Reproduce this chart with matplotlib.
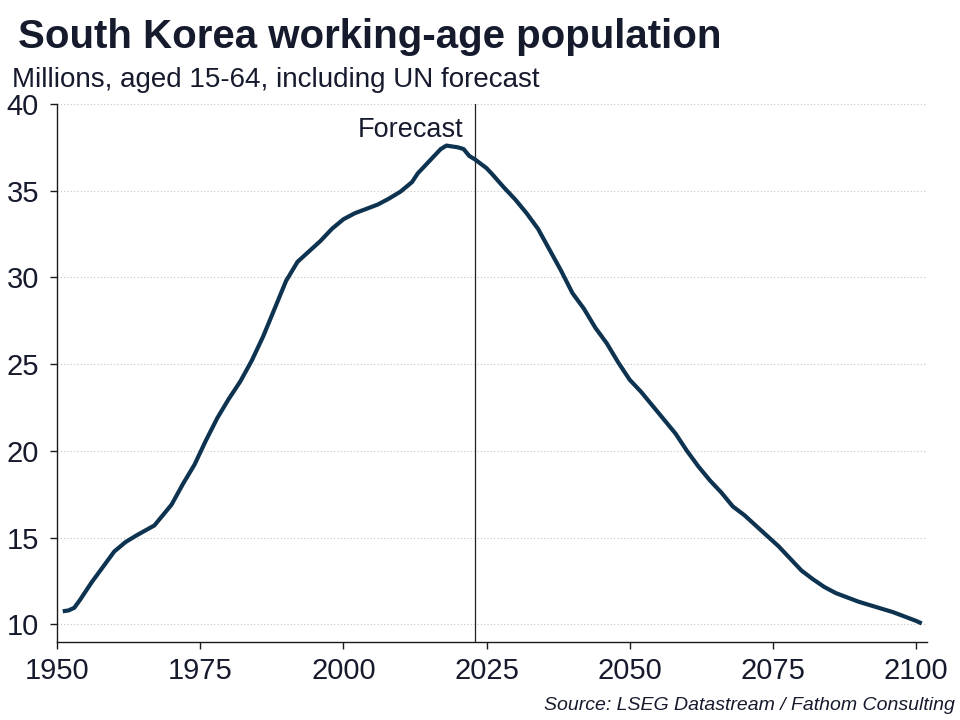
import matplotlib
matplotlib.use("Agg")
import matplotlib.pyplot as plt

# South Korea working-age population (millions, aged 15-64)
years = [
    1951, 1952, 1953, 1954, 1955, 1956, 1958, 1960, 1962, 1964, 1967, 1968,
    1970, 1972, 1974, 1976, 1978, 1980, 1982, 1984, 1986, 1988, 1990, 1992,
    1994, 1996, 1998, 2000, 2002, 2004, 2006, 2008, 2010, 2012, 2013, 2015,
    2017, 2018, 2020, 2021, 2022, 2023, 2025, 2026, 2028, 2030, 2032, 2034,
    2036, 2038, 2040, 2042, 2044, 2046, 2048, 2050, 2052, 2054, 2056, 2058,
    2060, 2062, 2064, 2066, 2068, 2070, 2072, 2074, 2076, 2078, 2080, 2082,
    2084, 2086, 2088, 2090, 2092, 2094, 2096, 2098, 2100, 2101,
]
population = [
    10.75, 10.8, 10.95, 11.4, 11.9, 12.4, 13.3, 14.2, 14.75, 15.15, 15.7, 16.1,
    16.9, 18.1, 19.2, 20.6, 21.9, 23.0, 24.0, 25.2, 26.6, 28.2, 29.8, 30.9,
    31.5, 32.1, 32.8, 33.35, 33.7, 33.95, 34.2, 34.55, 34.95, 35.5, 36.0, 36.7,
    37.4, 37.6, 37.5, 37.4, 37.0, 36.8, 36.3, 35.95, 35.2, 34.5, 33.7, 32.8,
    31.6, 30.4, 29.1, 28.2, 27.1, 26.2, 25.1, 24.1, 23.4, 22.6, 21.8, 21.0,
    20.0, 19.1, 18.3, 17.6, 16.8, 16.3, 15.7, 15.1, 14.5, 13.8, 13.1, 12.6,
    12.15, 11.8, 11.55, 11.3, 11.1, 10.9, 10.7, 10.45, 10.2, 10.05,
]
forecast_start = 2023

x_ticks = [1950, 1975, 2000, 2025, 2050, 2075, 2100]
y_ticks = [10, 15, 20, 25, 30, 35, 40]

TEXT_COLOR = "#161a2d"
LINE_COLOR = "#0d3350"

plt.rcParams["font.family"] = ["Liberation Sans", "DejaVu Sans"]

fig = plt.figure(figsize=(9.6, 7.2), dpi=100)
ax = fig.add_axes([0.0594, 0.1088, 0.9067, 0.7468])

ax.plot(years, population, color=LINE_COLOR, linewidth=3.0,
        solid_joinstyle="round", solid_capstyle="butt", zorder=3)
ax.axvline(forecast_start, color="#222222", linewidth=0.9, zorder=2)
ax.text(forecast_start - 2, 38.1, "Forecast", ha="right", va="baseline",
        fontsize=19.5, color=TEXT_COLOR)

ax.set_xlim(1950, 2102)
ax.set_ylim(9, 40)
ax.set_xticks(x_ticks)
ax.set_yticks(y_ticks)
ax.grid(axis="y", linestyle=(0, (1, 2)), color="#c4c4c4", linewidth=0.8)
ax.set_axisbelow(True)

for side in ["top", "right"]:
    ax.spines[side].set_visible(False)
for side in ["left", "bottom"]:
    ax.spines[side].set_color("#1a1a1a")
    ax.spines[side].set_linewidth(1.0)

ax.tick_params(axis="both", direction="out", length=5, width=1,
               color="#1a1a1a", labelsize=21, labelcolor=TEXT_COLOR)
ax.tick_params(axis="y", pad=8)
ax.tick_params(axis="x", pad=6)

fig.text(0.019, 0.934, "South Korea working-age population", fontsize=29,
         fontweight="bold", color=TEXT_COLOR, va="baseline")
fig.text(0.013, 0.879, "Millions, aged 15-64, including UN forecast",
         fontsize=20, color=TEXT_COLOR, va="baseline")
fig.text(0.995, 0.014, "Source: LSEG Datastream / Fathom Consulting",
         fontsize=14, style="italic", color=TEXT_COLOR, ha="right",
         va="baseline")

fig.savefig("out.png", dpi=100)
